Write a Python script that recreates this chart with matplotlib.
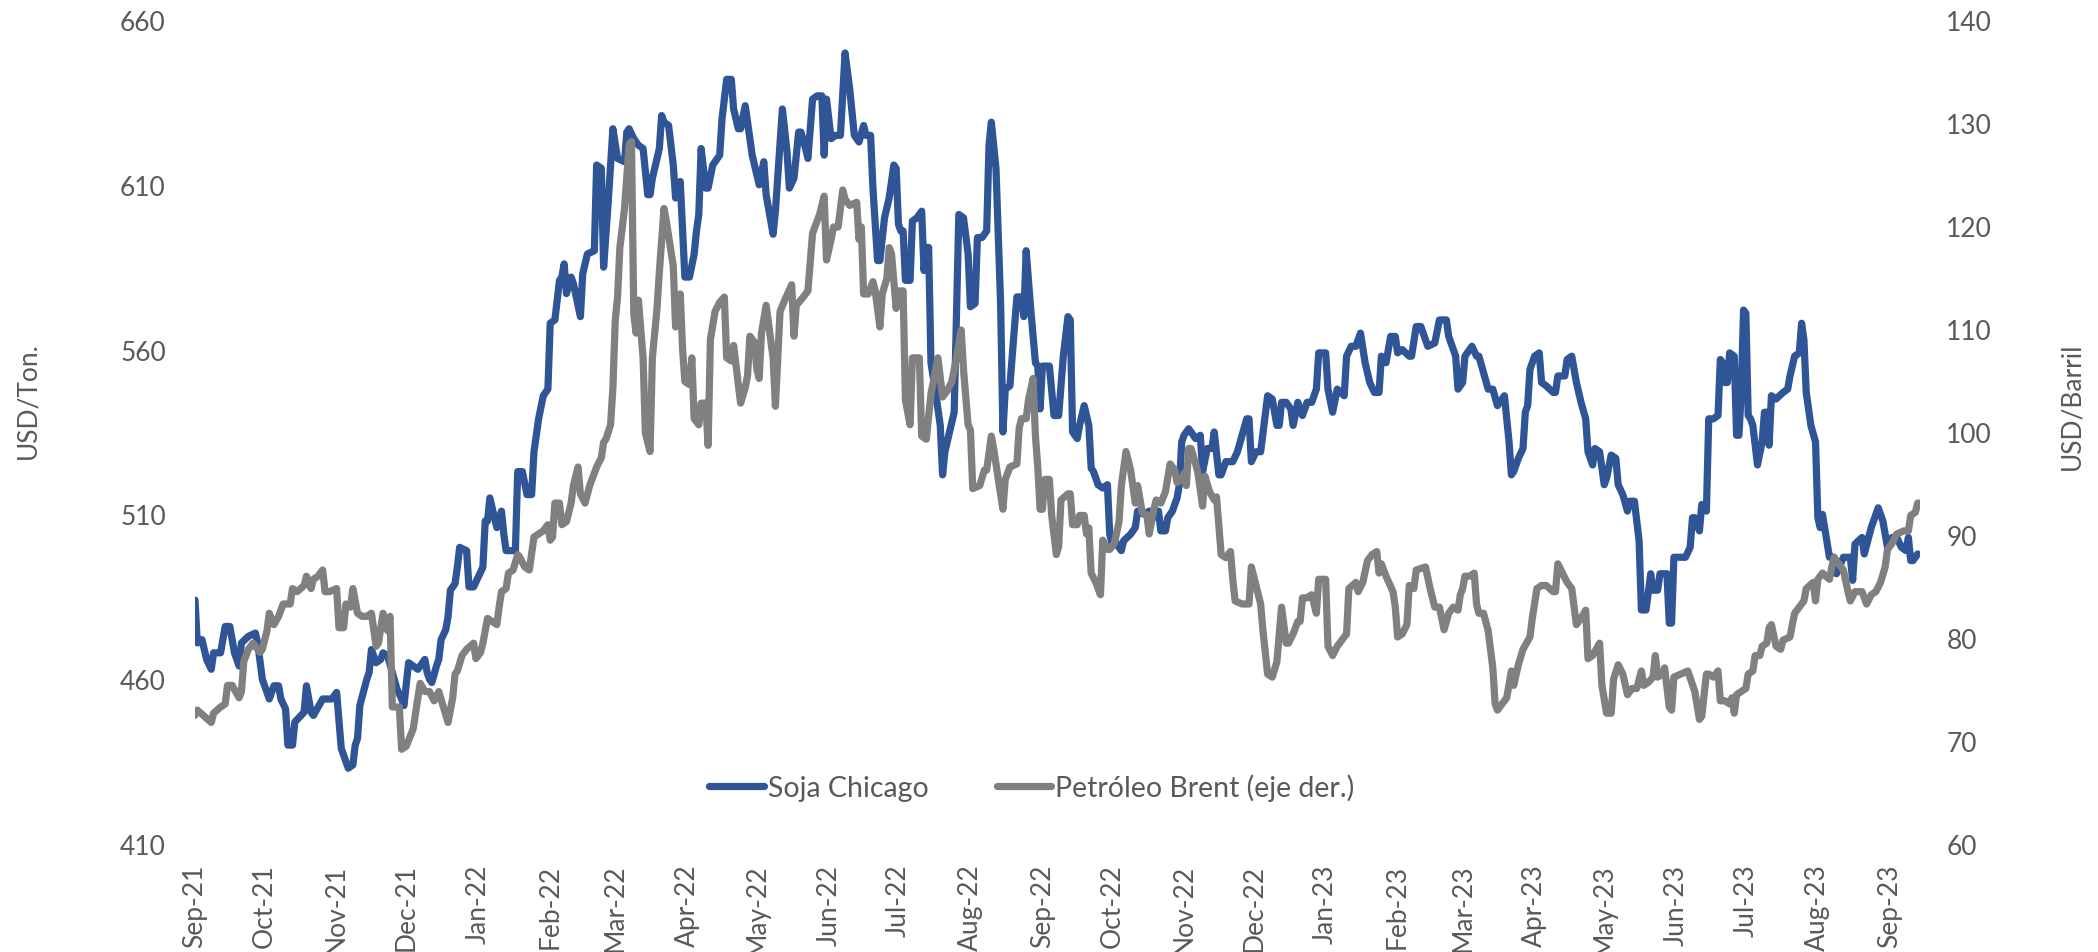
import matplotlib
matplotlib.use("Agg")
import matplotlib.pyplot as plt
import matplotlib.dates as mdates
import pandas as pd

# Soja Chicago, USD/Ton. (left axis)
soja = [
    ("2021-09-01", 484), ("2021-09-02", 471), ("2021-09-04", 472), ("2021-09-06", 466),
    ("2021-09-08", 463), ("2021-09-09", 468), ("2021-09-12", 468), ("2021-09-14", 476),
    ("2021-09-16", 476), ("2021-09-18", 468), ("2021-09-20", 464), ("2021-09-21", 471),
    ("2021-09-24", 473), ("2021-09-27", 474), ("2021-09-28", 471), ("2021-09-30", 460),
    ("2021-10-02", 456), ("2021-10-03", 454), ("2021-10-05", 458), ("2021-10-07", 458),
    ("2021-10-08", 454), ("2021-10-10", 451), ("2021-10-11", 440), ("2021-10-13", 440),
    ("2021-10-14", 447), ("2021-10-18", 450), ("2021-10-19", 458), ("2021-10-21", 450),
    ("2021-10-22", 449), ("2021-10-26", 454), ("2021-10-30", 454), ("2021-11-01", 456),
    ("2021-11-03", 439), ("2021-11-06", 433), ("2021-11-08", 434), ("2021-11-09", 440),
    ("2021-11-10", 442), ("2021-11-11", 452), ("2021-11-14", 460), ("2021-11-15", 462),
    ("2021-11-16", 469), ("2021-11-18", 465), ("2021-11-20", 466), ("2021-11-21", 468),
    ("2021-11-23", 467), ("2021-11-25", 462), ("2021-11-27", 457), ("2021-11-29", 454),
    ("2021-11-30", 452), ("2021-12-02", 465), ("2021-12-04", 464), ("2021-12-06", 463),
    ("2021-12-07", 464), ("2021-12-09", 466), ("2021-12-10", 462), ("2021-12-11", 460),
    ("2021-12-12", 459), ("2021-12-14", 464), ("2021-12-15", 466), ("2021-12-16", 472),
    ("2021-12-18", 475), ("2021-12-19", 479), ("2021-12-20", 487), ("2021-12-22", 489),
    ("2021-12-23", 494), ("2021-12-24", 500), ("2021-12-27", 499), ("2021-12-28", 488),
    ("2021-12-30", 488), ("2022-01-03", 494), ("2022-01-04", 508), ("2022-01-05", 508),
    ("2022-01-06", 515), ("2022-01-08", 509), ("2022-01-09", 506), ("2022-01-11", 511),
    ("2022-01-12", 504), ("2022-01-13", 499), ("2022-01-15", 499), ("2022-01-17", 499),
    ("2022-01-18", 523), ("2022-01-20", 523), ("2022-01-22", 516), ("2022-01-24", 516),
    ("2022-01-25", 529), ("2022-01-27", 539), ("2022-01-29", 546), ("2022-01-31", 548),
    ("2022-02-01", 568), ("2022-02-03", 569), ("2022-02-05", 581), ("2022-02-06", 582),
    ("2022-02-07", 586), ("2022-02-08", 577), ("2022-02-10", 582), ("2022-02-11", 580),
    ("2022-02-14", 570), ("2022-02-15", 583), ("2022-02-17", 589), ("2022-02-20", 590),
    ("2022-02-21", 616), ("2022-02-23", 615), ("2022-02-24", 585), ("2022-02-26", 605),
    ("2022-02-28", 627), ("2022-03-02", 618), ("2022-03-05", 617), ("2022-03-06", 626),
    ("2022-03-07", 627), ("2022-03-09", 624), ("2022-03-11", 622), ("2022-03-13", 621),
    ("2022-03-15", 607), ("2022-03-16", 607), ("2022-03-17", 612), ("2022-03-20", 621),
    ("2022-03-21", 631), ("2022-03-22", 629), ("2022-03-24", 628), ("2022-03-26", 616),
    ("2022-03-27", 606), ("2022-03-29", 611), ("2022-03-31", 582), ("2022-04-02", 582),
    ("2022-04-04", 589), ("2022-04-05", 596), ("2022-04-06", 601), ("2022-04-07", 621),
    ("2022-04-09", 609), ("2022-04-10", 609), ("2022-04-12", 616), ("2022-04-15", 619),
    ("2022-04-16", 630), ("2022-04-18", 642), ("2022-04-20", 642), ("2022-04-21", 633),
    ("2022-04-23", 627), ("2022-04-24", 627), ("2022-04-26", 634), ("2022-04-27", 629),
    ("2022-04-29", 619), ("2022-05-02", 610), ("2022-05-04", 617), ("2022-05-05", 607),
    ("2022-05-08", 595), ("2022-05-09", 602), ("2022-05-12", 633), ("2022-05-14", 620),
    ("2022-05-15", 609), ("2022-05-17", 612), ("2022-05-19", 626), ("2022-05-20", 626),
    ("2022-05-22", 621), ("2022-05-23", 618), ("2022-05-25", 636), ("2022-05-27", 637),
    ("2022-05-29", 637), ("2022-05-30", 619), ("2022-05-31", 636), ("2022-06-02", 624),
    ("2022-06-04", 625), ("2022-06-06", 625), ("2022-06-08", 650), ("2022-06-10", 639),
    ("2022-06-12", 625), ("2022-06-14", 623), ("2022-06-16", 628), ("2022-06-17", 625),
    ("2022-06-19", 625), ("2022-06-20", 609), ("2022-06-22", 587), ("2022-06-23", 587),
    ("2022-06-25", 600), ("2022-06-27", 606), ("2022-06-29", 616), ("2022-06-30", 615),
    ("2022-07-01", 598), ("2022-07-02", 596), ("2022-07-03", 596), ("2022-07-04", 581),
    ("2022-07-06", 581), ("2022-07-07", 599), ("2022-07-09", 600), ("2022-07-11", 602),
    ("2022-07-12", 584), ("2022-07-13", 591), ("2022-07-14", 591), ("2022-07-15", 556),
    ("2022-07-17", 547), ("2022-07-19", 537), ("2022-07-20", 522), ("2022-07-21", 529),
    ("2022-07-23", 535), ("2022-07-25", 541), ("2022-07-27", 601), ("2022-07-29", 600),
    ("2022-07-31", 589), ("2022-08-01", 573), ("2022-08-03", 574), ("2022-08-04", 594),
    ("2022-08-06", 594), ("2022-08-08", 596), ("2022-08-09", 622), ("2022-08-10", 629),
    ("2022-08-12", 615), ("2022-08-14", 574), ("2022-08-15", 535), ("2022-08-16", 548),
    ("2022-08-18", 549), ("2022-08-21", 576), ("2022-08-23", 576), ("2022-08-24", 570),
    ("2022-08-25", 590), ("2022-08-27", 572), ("2022-08-29", 556), ("2022-08-30", 555),
    ("2022-08-31", 542), ("2022-09-01", 555), ("2022-09-04", 555), ("2022-09-06", 540),
    ("2022-09-08", 540), ("2022-09-10", 558), ("2022-09-12", 570), ("2022-09-13", 569),
    ("2022-09-14", 535), ("2022-09-16", 533), ("2022-09-17", 537), ("2022-09-19", 543),
    ("2022-09-21", 537), ("2022-09-22", 524), ("2022-09-23", 523), ("2022-09-25", 519),
    ("2022-09-27", 518), ("2022-09-29", 519), ("2022-09-30", 504), ("2022-10-01", 501),
    ("2022-10-02", 503), ("2022-10-03", 501), ("2022-10-05", 499), ("2022-10-06", 502),
    ("2022-10-09", 504), ("2022-10-11", 506), ("2022-10-12", 511), ("2022-10-15", 510),
    ("2022-10-17", 511), ("2022-10-19", 509), ("2022-10-21", 511), ("2022-10-22", 505),
    ("2022-10-24", 505), ("2022-10-25", 509), ("2022-10-27", 511), ("2022-10-29", 515),
    ("2022-10-30", 519), ("2022-10-31", 532), ("2022-11-01", 534), ("2022-11-03", 536),
    ("2022-11-05", 534), ("2022-11-06", 533), ("2022-11-08", 534), ("2022-11-09", 523),
    ("2022-11-11", 530), ("2022-11-13", 530), ("2022-11-14", 535), ("2022-11-16", 522),
    ("2022-11-17", 522), ("2022-11-19", 526), ("2022-11-22", 526), ("2022-11-24", 529),
    ("2022-11-26", 534), ("2022-11-28", 539), ("2022-11-29", 539), ("2022-11-30", 526),
    ("2022-12-02", 529), ("2022-12-04", 529), ("2022-12-07", 546), ("2022-12-09", 545),
    ("2022-12-11", 537), ("2022-12-12", 537), ("2022-12-13", 544), ("2022-12-15", 544),
    ("2022-12-17", 542), ("2022-12-18", 537), ("2022-12-20", 544), ("2022-12-22", 540),
    ("2022-12-24", 544), ("2022-12-26", 544), ("2022-12-28", 548), ("2022-12-29", 559),
    ("2023-01-01", 559), ("2023-01-02", 548), ("2023-01-04", 541), ("2023-01-06", 548),
    ("2023-01-09", 546), ("2023-01-10", 558), ("2023-01-12", 561), ("2023-01-14", 561),
    ("2023-01-16", 565), ("2023-01-18", 556), ("2023-01-20", 550), ("2023-01-22", 547),
    ("2023-01-24", 547), ("2023-01-25", 558), ("2023-01-27", 556), ("2023-01-29", 564),
    ("2023-01-31", 564), ("2023-02-01", 559), ("2023-02-03", 560), ("2023-02-06", 558),
    ("2023-02-07", 558), ("2023-02-09", 567), ("2023-02-11", 567), ("2023-02-14", 561),
    ("2023-02-17", 562), ("2023-02-19", 569), ("2023-02-22", 569), ("2023-02-23", 564),
    ("2023-02-24", 562), ("2023-02-26", 558), ("2023-02-27", 548), ("2023-02-28", 549),
    ("2023-03-01", 550), ("2023-03-02", 558), ("2023-03-05", 561), ("2023-03-07", 558),
    ("2023-03-08", 558), ("2023-03-10", 553), ("2023-03-12", 548), ("2023-03-14", 548),
    ("2023-03-16", 543), ("2023-03-17", 544), ("2023-03-19", 546), ("2023-03-21", 532),
    ("2023-03-22", 522), ("2023-03-23", 523), ("2023-03-25", 527), ("2023-03-27", 530),
    ("2023-03-28", 541), ("2023-03-29", 543), ("2023-03-30", 554), ("2023-04-01", 558),
    ("2023-04-03", 559), ("2023-04-04", 550), ("2023-04-06", 549), ("2023-04-09", 547),
    ("2023-04-10", 547), ("2023-04-11", 552), ("2023-04-14", 552), ("2023-04-15", 557),
    ("2023-04-17", 558), ("2023-04-19", 550), ("2023-04-21", 544), ("2023-04-23", 539),
    ("2023-04-24", 529), ("2023-04-26", 525), ("2023-04-27", 530), ("2023-04-29", 529),
    ("2023-05-01", 519), ("2023-05-02", 521), ("2023-05-04", 528), ("2023-05-06", 527),
    ("2023-05-07", 519), ("2023-05-09", 516), ("2023-05-11", 511), ("2023-05-12", 514),
    ("2023-05-14", 514), ("2023-05-16", 502), ("2023-05-17", 481), ("2023-05-19", 481),
    ("2023-05-21", 492), ("2023-05-22", 487), ("2023-05-24", 487), ("2023-05-25", 492),
    ("2023-05-28", 492), ("2023-05-29", 477), ("2023-05-30", 477), ("2023-05-31", 497),
    ("2023-06-04", 497), ("2023-06-05", 497), ("2023-06-07", 500), ("2023-06-08", 509),
    ("2023-06-09", 509), ("2023-06-11", 505), ("2023-06-12", 513), ("2023-06-14", 511),
    ("2023-06-15", 539), ("2023-06-17", 539), ("2023-06-19", 540), ("2023-06-20", 557),
    ("2023-06-21", 556), ("2023-06-22", 550), ("2023-06-23", 550), ("2023-06-24", 559),
    ("2023-06-26", 558), ("2023-06-27", 534), ("2023-06-28", 534), ("2023-06-29", 547),
    ("2023-06-30", 572), ("2023-07-01", 571), ("2023-07-02", 540), ("2023-07-03", 539),
    ("2023-07-04", 537), ("2023-07-06", 525), ("2023-07-08", 532), ("2023-07-09", 541),
    ("2023-07-10", 541), ("2023-07-11", 531), ("2023-07-12", 546), ("2023-07-14", 545),
    ("2023-07-17", 547), ("2023-07-19", 548), ("2023-07-20", 552), ("2023-07-22", 558),
    ("2023-07-24", 559), ("2023-07-25", 568), ("2023-07-26", 563), ("2023-07-27", 547),
    ("2023-07-29", 537), ("2023-07-31", 532), ("2023-08-01", 509), ("2023-08-02", 506),
    ("2023-08-03", 510), ("2023-08-06", 497), ("2023-08-08", 497), ("2023-08-09", 492),
    ("2023-08-12", 497), ("2023-08-15", 497), ("2023-08-16", 490), ("2023-08-17", 501),
    ("2023-08-20", 503), ("2023-08-21", 498), ("2023-08-24", 506), ("2023-08-27", 512),
    ("2023-08-29", 508), ("2023-08-31", 500), ("2023-09-02", 503), ("2023-09-04", 503),
    ("2023-09-06", 500), ("2023-09-08", 499), ("2023-09-09", 503), ("2023-09-10", 496),
    ("2023-09-11", 496), ("2023-09-13", 498),
]

# Petróleo Brent, USD/Barril (right axis)
brent = [
    ("2021-09-01", 72.5), ("2021-09-02", 73.0), ("2021-09-05", 72.4), ("2021-09-08", 71.8),
    ("2021-09-09", 72.7), ("2021-09-12", 73.3), ("2021-09-14", 73.6), ("2021-09-15", 75.4),
    ("2021-09-17", 75.4), ("2021-09-20", 74.2), ("2021-09-21", 74.8), ("2021-09-22", 77.7),
    ("2021-09-24", 78.9), ("2021-09-26", 79.5), ("2021-09-29", 78.6), ("2021-09-30", 78.9),
    ("2021-10-02", 80.7), ("2021-10-03", 82.4), ("2021-10-05", 81.3), ("2021-10-07", 82.1),
    ("2021-10-09", 83.3), ("2021-10-12", 83.3), ("2021-10-13", 84.8), ("2021-10-15", 84.5),
    ("2021-10-18", 85.1), ("2021-10-19", 86.0), ("2021-10-21", 84.8), ("2021-10-22", 85.7),
    ("2021-10-24", 86.0), ("2021-10-26", 86.6), ("2021-10-27", 84.5), ("2021-10-29", 84.5),
    ("2021-11-01", 84.8), ("2021-11-02", 81.0), ("2021-11-04", 81.0), ("2021-11-05", 83.3),
    ("2021-11-07", 83.0), ("2021-11-08", 84.8), ("2021-11-10", 82.4), ("2021-11-12", 82.1),
    ("2021-11-14", 82.1), ("2021-11-16", 82.4), ("2021-11-18", 79.2), ("2021-11-19", 79.5),
    ("2021-11-21", 82.4), ("2021-11-23", 80.7), ("2021-11-24", 82.1), ("2021-11-25", 73.3),
    ("2021-11-28", 73.3), ("2021-11-29", 69.2), ("2021-12-01", 69.5), ("2021-12-04", 71.2),
    ("2021-12-06", 74.2), ("2021-12-07", 75.6), ("2021-12-09", 74.8), ("2021-12-11", 74.8),
    ("2021-12-13", 73.9), ("2021-12-15", 74.8), ("2021-12-17", 73.3), ("2021-12-19", 71.8),
    ("2021-12-21", 74.2), ("2021-12-22", 76.5), ("2021-12-23", 76.8), ("2021-12-25", 78.3),
    ("2021-12-27", 78.9), ("2021-12-30", 79.5), ("2021-12-31", 78.0), ("2022-01-02", 78.6),
    ("2022-01-03", 79.5), ("2022-01-05", 81.9), ("2022-01-07", 81.6), ("2022-01-09", 81.3),
    ("2022-01-10", 83.0), ("2022-01-11", 84.5), ("2022-01-13", 84.8), ("2022-01-14", 86.3),
    ("2022-01-16", 86.6), ("2022-01-18", 88.1), ("2022-01-19", 87.8), ("2022-01-21", 86.9),
    ("2022-01-23", 86.6), ("2022-01-25", 89.8), ("2022-01-27", 90.1), ("2022-01-29", 90.4),
    ("2022-01-31", 91.0), ("2022-02-01", 89.5), ("2022-02-02", 89.8), ("2022-02-03", 93.1),
    ("2022-02-05", 93.1), ("2022-02-06", 91.0), ("2022-02-08", 91.3), ("2022-02-10", 93.1),
    ("2022-02-11", 94.8), ("2022-02-13", 96.6), ("2022-02-14", 94.0), ("2022-02-16", 93.1),
    ("2022-02-18", 94.8), ("2022-02-21", 96.6), ("2022-02-23", 97.5), ("2022-02-24", 99.0),
    ("2022-02-25", 99.3), ("2022-02-27", 100.7), ("2022-02-28", 104.3), ("2022-03-01", 110.8),
    ("2022-03-02", 113.1), ("2022-03-03", 117.9), ("2022-03-05", 121.7), ("2022-03-07", 127.9),
    ("2022-03-08", 128.2), ("2022-03-09", 111.4), ("2022-03-10", 109.6), ("2022-03-11", 112.8),
    ("2022-03-13", 107.2), ("2022-03-14", 99.9), ("2022-03-16", 98.1), ("2022-03-17", 107.2),
    ("2022-03-19", 112.0), ("2022-03-20", 115.5), ("2022-03-22", 121.7), ("2022-03-23", 120.5),
    ("2022-03-26", 116.1), ("2022-03-27", 110.2), ("2022-03-29", 113.4), ("2022-03-30", 108.1),
    ("2022-03-31", 104.9), ("2022-04-02", 104.6), ("2022-04-03", 107.2), ("2022-04-04", 101.3),
    ("2022-04-06", 100.7), ("2022-04-07", 102.8), ("2022-04-09", 102.8), ("2022-04-10", 98.7),
    ("2022-04-11", 109.0), ("2022-04-13", 111.7), ("2022-04-15", 112.6), ("2022-04-17", 113.1),
    ("2022-04-18", 107.2), ("2022-04-20", 106.9), ("2022-04-21", 108.4), ("2022-04-24", 102.8),
    ("2022-04-26", 104.3), ("2022-04-27", 105.5), ("2022-04-28", 109.3), ("2022-04-30", 108.7),
    ("2022-05-01", 106.1), ("2022-05-02", 105.2), ("2022-05-03", 109.6), ("2022-05-05", 112.3),
    ("2022-05-08", 107.2), ("2022-05-09", 102.5), ("2022-05-11", 111.7), ("2022-05-13", 112.8),
    ("2022-05-16", 114.3), ("2022-05-17", 109.3), ("2022-05-18", 112.3), ("2022-05-21", 113.1),
    ("2022-05-23", 113.7), ("2022-05-25", 119.3), ("2022-05-28", 121.1), ("2022-05-30", 122.9),
    ("2022-05-31", 116.7), ("2022-06-02", 118.7), ("2022-06-03", 119.9), ("2022-06-05", 119.9),
    ("2022-06-07", 123.5), ("2022-06-08", 122.6), ("2022-06-10", 122.0), ("2022-06-13", 122.3),
    ("2022-06-14", 118.7), ("2022-06-15", 119.9), ("2022-06-16", 113.4), ("2022-06-18", 113.4),
    ("2022-06-20", 114.6), ("2022-06-21", 113.7), ("2022-06-23", 110.2), ("2022-06-24", 113.4),
    ("2022-06-26", 114.9), ("2022-06-27", 117.9), ("2022-06-28", 117.3), ("2022-06-30", 112.0),
    ("2022-07-01", 113.7), ("2022-07-03", 113.7), ("2022-07-04", 103.1), ("2022-07-06", 100.7),
    ("2022-07-07", 107.2), ("2022-07-10", 107.2), ("2022-07-11", 99.6), ("2022-07-13", 99.3),
    ("2022-07-15", 103.7), ("2022-07-18", 107.2), ("2022-07-20", 103.4), ("2022-07-22", 104.0),
    ("2022-07-24", 104.9), ("2022-07-26", 107.2), ("2022-07-28", 109.9), ("2022-07-29", 106.1),
    ("2022-07-31", 100.7), ("2022-08-01", 100.2), ("2022-08-02", 94.5), ("2022-08-05", 94.8),
    ("2022-08-07", 96.3), ("2022-08-08", 96.3), ("2022-08-10", 99.6), ("2022-08-11", 98.4),
    ("2022-08-13", 95.4), ("2022-08-15", 92.5), ("2022-08-16", 95.4), ("2022-08-18", 96.6),
    ("2022-08-21", 96.9), ("2022-08-22", 100.4), ("2022-08-23", 101.3), ("2022-08-25", 101.3),
    ("2022-08-26", 103.1), ("2022-08-28", 105.2), ("2022-08-29", 99.6), ("2022-08-30", 96.6),
    ("2022-08-31", 92.5), ("2022-09-01", 92.5), ("2022-09-02", 95.4), ("2022-09-04", 95.4),
    ("2022-09-05", 91.9), ("2022-09-07", 88.1), ("2022-09-08", 88.9), ("2022-09-09", 93.4),
    ("2022-09-12", 94.0), ("2022-09-13", 94.0), ("2022-09-14", 91.0), ("2022-09-16", 91.0),
    ("2022-09-17", 91.9), ("2022-09-19", 91.9), ("2022-09-20", 90.1), ("2022-09-21", 90.7),
    ("2022-09-22", 86.3), ("2022-09-24", 85.4), ("2022-09-26", 84.2), ("2022-09-27", 89.5),
    ("2022-09-29", 88.6), ("2022-09-30", 88.6), ("2022-10-02", 89.2), ("2022-10-04", 91.3),
    ("2022-10-05", 94.8), ("2022-10-07", 98.1), ("2022-10-09", 96.3), ("2022-10-11", 93.1),
    ("2022-10-12", 94.8), ("2022-10-14", 92.2), ("2022-10-16", 91.9), ("2022-10-17", 90.1),
    ("2022-10-19", 92.5), ("2022-10-20", 93.4), ("2022-10-22", 93.1), ("2022-10-24", 94.2),
    ("2022-10-26", 96.9), ("2022-10-28", 96.3), ("2022-10-29", 95.1), ("2022-10-31", 95.4),
    ("2022-11-01", 96.0), ("2022-11-02", 94.8), ("2022-11-03", 98.4), ("2022-11-04", 98.4),
    ("2022-11-06", 96.9), ("2022-11-07", 96.0), ("2022-11-09", 92.8), ("2022-11-10", 95.7),
    ("2022-11-12", 94.2), ("2022-11-14", 93.4), ("2022-11-15", 93.7), ("2022-11-17", 88.1),
    ("2022-11-19", 87.8), ("2022-11-21", 88.4), ("2022-11-22", 85.7), ("2022-11-23", 83.6),
    ("2022-11-26", 83.3), ("2022-11-29", 83.3), ("2022-11-30", 86.9), ("2022-12-02", 85.1),
    ("2022-12-04", 83.3), ("2022-12-05", 80.7), ("2022-12-07", 76.5), ("2022-12-09", 76.2),
    ("2022-12-11", 77.7), ("2022-12-13", 83.0), ("2022-12-15", 79.5), ("2022-12-16", 79.5),
    ("2022-12-18", 80.4), ("2022-12-20", 81.6), ("2022-12-21", 81.6), ("2022-12-22", 83.9),
    ("2022-12-24", 83.9), ("2022-12-26", 84.2), ("2022-12-28", 82.4), ("2022-12-29", 85.7),
    ("2023-01-01", 85.7), ("2023-01-02", 79.2), ("2023-01-04", 78.3), ("2023-01-06", 79.2),
    ("2023-01-08", 79.8), ("2023-01-10", 80.4), ("2023-01-11", 84.8), ("2023-01-14", 85.4),
    ("2023-01-15", 84.5), ("2023-01-17", 85.4), ("2023-01-19", 87.5), ("2023-01-21", 88.1),
    ("2023-01-23", 88.4), ("2023-01-24", 86.3), ("2023-01-25", 87.2), ("2023-01-27", 86.0),
    ("2023-01-30", 84.5), ("2023-01-31", 83.0), ("2023-02-01", 80.1), ("2023-02-03", 80.4),
    ("2023-02-05", 81.3), ("2023-02-06", 85.1), ("2023-02-08", 84.8), ("2023-02-09", 86.6),
    ("2023-02-13", 86.9), ("2023-02-15", 84.8), ("2023-02-17", 83.0), ("2023-02-19", 83.0),
    ("2023-02-21", 80.8), ("2023-02-23", 82.4), ("2023-02-25", 83.0), ("2023-02-27", 82.7),
    ("2023-02-28", 84.2), ("2023-03-01", 84.8), ("2023-03-02", 86.0), ("2023-03-04", 86.0),
    ("2023-03-06", 86.3), ("2023-03-07", 83.3), ("2023-03-08", 82.4), ("2023-03-10", 82.4),
    ("2023-03-12", 80.7), ("2023-03-14", 77.1), ("2023-03-15", 73.6), ("2023-03-16", 73.0),
    ("2023-03-18", 73.6), ("2023-03-20", 74.2), ("2023-03-22", 76.8), ("2023-03-23", 75.4),
    ("2023-03-25", 77.4), ("2023-03-27", 78.9), ("2023-03-30", 80.1), ("2023-03-31", 81.9),
    ("2023-04-02", 84.8), ("2023-04-04", 85.1), ("2023-04-06", 85.1), ("2023-04-09", 84.5),
    ("2023-04-10", 84.5), ("2023-04-11", 87.2), ("2023-04-13", 86.3), ("2023-04-15", 85.4),
    ("2023-04-17", 84.8), ("2023-04-19", 81.3), ("2023-04-21", 81.9), ("2023-04-23", 82.7),
    ("2023-04-24", 78.0), ("2023-04-26", 78.3), ("2023-04-29", 79.5), ("2023-04-30", 75.4),
    ("2023-05-02", 72.7), ("2023-05-04", 72.7), ("2023-05-05", 76.0), ("2023-05-07", 77.4),
    ("2023-05-09", 76.5), ("2023-05-11", 74.5), ("2023-05-13", 75.1), ("2023-05-15", 75.1),
    ("2023-05-17", 76.8), ("2023-05-18", 75.4), ("2023-05-20", 75.7), ("2023-05-22", 76.2),
    ("2023-05-23", 78.3), ("2023-05-24", 76.2), ("2023-05-26", 76.5), ("2023-05-27", 77.1),
    ("2023-05-29", 73.3), ("2023-05-30", 73.0), ("2023-05-31", 76.2), ("2023-06-03", 76.5),
    ("2023-06-06", 76.8), ("2023-06-09", 74.8), ("2023-06-11", 72.1), ("2023-06-12", 72.4),
    ("2023-06-14", 76.5), ("2023-06-15", 76.5), ("2023-06-17", 76.2), ("2023-06-19", 76.8),
    ("2023-06-20", 73.9), ("2023-06-22", 73.9), ("2023-06-24", 73.6), ("2023-06-25", 74.2),
    ("2023-06-26", 72.7), ("2023-06-27", 74.5), ("2023-06-29", 74.8), ("2023-07-01", 75.1),
    ("2023-07-02", 76.5), ("2023-07-04", 76.8), ("2023-07-05", 78.3), ("2023-07-07", 78.3),
    ("2023-07-08", 79.2), ("2023-07-10", 79.5), ("2023-07-11", 81.0), ("2023-07-12", 81.3),
    ("2023-07-14", 79.2), ("2023-07-16", 78.9), ("2023-07-17", 79.8), ("2023-07-20", 80.1),
    ("2023-07-21", 81.3), ("2023-07-22", 82.4), ("2023-07-25", 83.3), ("2023-07-26", 83.6),
    ("2023-07-27", 84.8), ("2023-07-30", 85.4), ("2023-07-31", 83.6), ("2023-08-01", 85.7),
    ("2023-08-03", 86.3), ("2023-08-06", 85.7), ("2023-08-07", 86.9), ("2023-08-08", 87.8),
    ("2023-08-10", 87.2), ("2023-08-12", 86.6), ("2023-08-14", 84.5), ("2023-08-15", 83.6),
    ("2023-08-17", 84.5), ("2023-08-20", 84.5), ("2023-08-22", 83.3), ("2023-08-24", 84.2),
    ("2023-08-26", 84.5), ("2023-08-28", 85.4), ("2023-08-30", 86.9), ("2023-08-31", 88.6),
    ("2023-09-02", 89.2), ("2023-09-04", 90.1), ("2023-09-07", 90.4), ("2023-09-09", 90.4),
    ("2023-09-10", 91.9), ("2023-09-12", 92.2), ("2023-09-13", 93.1), ("2023-09-14", 93.1),
]

soja_ticks = [410, 460, 510, 560, 610, 660]
brent_ticks = [60, 70, 80, 90, 100, 110, 120, 130, 140]

BLUE = "#2F5597"
GRAY = "#808080"
TEXT = "#595959"
FONT = ["Lato", "DejaVu Sans"]

plt.rcParams["font.family"] = FONT

soja_x = pd.to_datetime([d for d, _ in soja])
soja_y = [v for _, v in soja]
brent_x = pd.to_datetime([d for d, _ in brent])
brent_y = [v for _, v in brent]

W, H = 2098, 953
fig = plt.figure(figsize=(W / 100, H / 100), dpi=100)
left, right, top, bottom = 195, 1920, 21, 845
ax = fig.add_axes([left / W, 1 - bottom / H, (right - left) / W, (bottom - top) / H])
ax2 = ax.twinx()

l1, = ax.plot(soja_x, soja_y, color=BLUE, lw=5.2, solid_joinstyle="round",
              solid_capstyle="round", label="Soja Chicago")
l2, = ax2.plot(brent_x, brent_y, color=GRAY, lw=5.2, solid_joinstyle="round",
               solid_capstyle="round", label="Petróleo Brent (eje der.)")

ax.set_xlim(pd.Timestamp("2021-09-01"), pd.Timestamp("2023-09-14"))
ax.set_ylim(410, 660)
ax2.set_ylim(60, 140)
ax.set_yticks(soja_ticks)
ax2.set_yticks(brent_ticks)

ax.xaxis.set_major_locator(mdates.MonthLocator())
ax.xaxis.set_major_formatter(mdates.DateFormatter("%b-%y"))
for lab in ax.get_xticklabels():
    lab.set_rotation(90)

for a in (ax, ax2):
    for s in a.spines.values():
        s.set_visible(False)
ax.tick_params(axis="x", length=0, pad=14, labelsize=19, labelcolor=TEXT)
ax.tick_params(axis="y", length=0, pad=21, labelsize=19, labelcolor=TEXT)
ax2.tick_params(axis="y", length=0, pad=19, labelsize=19, labelcolor=TEXT)

fig.text(28 / W, 1 - 401 / H, "USD/Ton.", rotation=90, ha="center", va="center",
         fontsize=19, color=TEXT)
fig.text(2072 / W, 1 - 406 / H, "USD/Barril", rotation=90, ha="center", va="center",
         fontsize=19, color=TEXT)

fig.legend(handles=[l1, l2], loc="center", bbox_to_anchor=(1032 / W, 1 - 788 / H),
           ncol=2, frameon=False, fontsize=20.5, labelcolor=TEXT, handlelength=1.9,
           handletextpad=0.15, columnspacing=2.4)

fig.savefig("out.png", dpi=100)
plt.close(fig)
